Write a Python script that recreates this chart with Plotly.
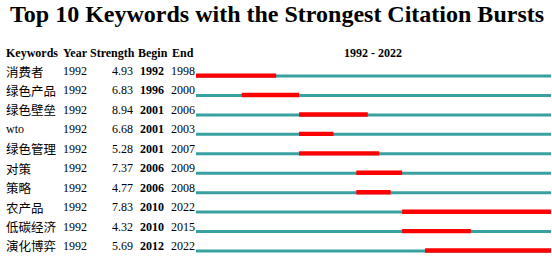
import plotly.graph_objects as go

keywords = ["消费者", "绿色产品", "绿色壁垒", "wto", "绿色管理", "对策", "策略", "农产品", "低碳经济", "演化博弈"]
years = [1992] * 10
strength = [4.93, 6.83, 8.94, 6.68, 5.28, 7.37, 4.77, 7.83, 4.32, 5.69]
begin = [1992, 1996, 2001, 2001, 2001, 2006, 2006, 2010, 2010, 2012]
end = [1998, 2000, 2006, 2003, 2007, 2009, 2008, 2022, 2015, 2022]
start_year, end_year = 1992, 2022
headers = ["Keywords", "Year", "Strength", "Begin", "End"]
title = "Top 10 Keywords with the Strongest Citation Bursts"

W, H = 552, 257
row0_px, row_step = 76.0, 19.44
rows = list(range(len(keywords)))

fig = go.Figure()
fig.add_trace(go.Bar(
    orientation="h", y=rows, base=[start_year] * len(rows),
    x=[end_year - start_year + 1] * len(rows), width=3.0 / row_step,
    marker=dict(color="#38a0a0", line=dict(width=0)), hoverinfo="skip"))
fig.add_trace(go.Bar(
    orientation="h", y=rows, base=begin,
    x=[e - b + 1 for b, e in zip(begin, end)], width=4.4 / row_step,
    offset=-2.6 / row_step,
    marker=dict(color="#ff0000", line=dict(width=0)), hoverinfo="skip"))

y_top = -row0_px / row_step
y_bot = (H - row0_px) / row_step

serif = "Liberation Serif, Times New Roman, serif"
cjk = "Noto Sans CJK SC"

def px(x):
    return x / W

ann = []
text_dy = -5.0 / row_step
hdr_y = (53 - row0_px) / row_step
col_x = {"Keywords": (4, "left"), "Year": (61, "left"), "Strength": (88, "left"),
         "Begin": (136, "left"), "End": (170, "left")}
for h in headers:
    x, a = col_x[h]
    ann.append(dict(x=px(x), y=hdr_y, xref="paper", yref="y", text="<b>%s</b>" % h,
                    xanchor=a, yanchor="middle", showarrow=False,
                    font=dict(family=serif, size=12, color="black")))
ann.append(dict(x=px(373), y=hdr_y, xref="paper", yref="y",
                text="<b>%d - %d</b>" % (start_year, end_year),
                xanchor="center", yanchor="middle", showarrow=False,
                font=dict(family=serif, size=12, color="black")))

for i, k in enumerate(keywords):
    yy = i + text_dy
    is_latin = all(ord(c) < 128 for c in k)
    ann.append(dict(x=px(4), y=yy, xref="paper", yref="y", text=k, xanchor="left",
                    yanchor="middle", showarrow=False,
                    font=dict(family=serif if is_latin else cjk, size=12.5 if not is_latin else 12,
                              color="black")))
    ann.append(dict(x=px(61), y=yy, xref="paper", yref="y", text=str(years[i]), xanchor="left",
                    yanchor="middle", showarrow=False, font=dict(family=serif, size=12, color="black")))
    ann.append(dict(x=px(134.5), y=yy, xref="paper", yref="y", text="%.2f" % strength[i],
                    xanchor="right", yanchor="middle", showarrow=False,
                    font=dict(family=serif, size=12, color="black")))
    ann.append(dict(x=px(137.5), y=yy, xref="paper", yref="y", text="<b>%d</b>" % begin[i],
                    xanchor="left", yanchor="middle", showarrow=False,
                    font=dict(family=serif, size=12, color="black")))
    ann.append(dict(x=px(169), y=yy, xref="paper", yref="y", text=str(end[i]), xanchor="left",
                    yanchor="middle", showarrow=False, font=dict(family=serif, size=12, color="black")))

ann.append(dict(x=px(277), y=1 - 13.5 / H, xref="paper", yref="paper", text="<b>%s</b>" % title,
                xanchor="center", yanchor="middle", showarrow=False,
                font=dict(family=serif, size=24, color="black")))

fig.update_layout(
    width=W, height=H, margin=dict(l=0, r=0, t=0, b=0),
    paper_bgcolor="white", plot_bgcolor="white",
    barmode="overlay", showlegend=False, annotations=ann,
    xaxis=dict(domain=[196 / W, 551 / W], range=[start_year, end_year + 1],
               showgrid=False, zeroline=False, showticklabels=False, showline=False),
    yaxis=dict(range=[y_bot, y_top], showgrid=False, zeroline=False,
               showticklabels=False, showline=False),
)
fig.write_html("out.html", config={"displayModeBar": False},
               post_script="document.body.style.margin='0';document.body.style.overflow='hidden';")
